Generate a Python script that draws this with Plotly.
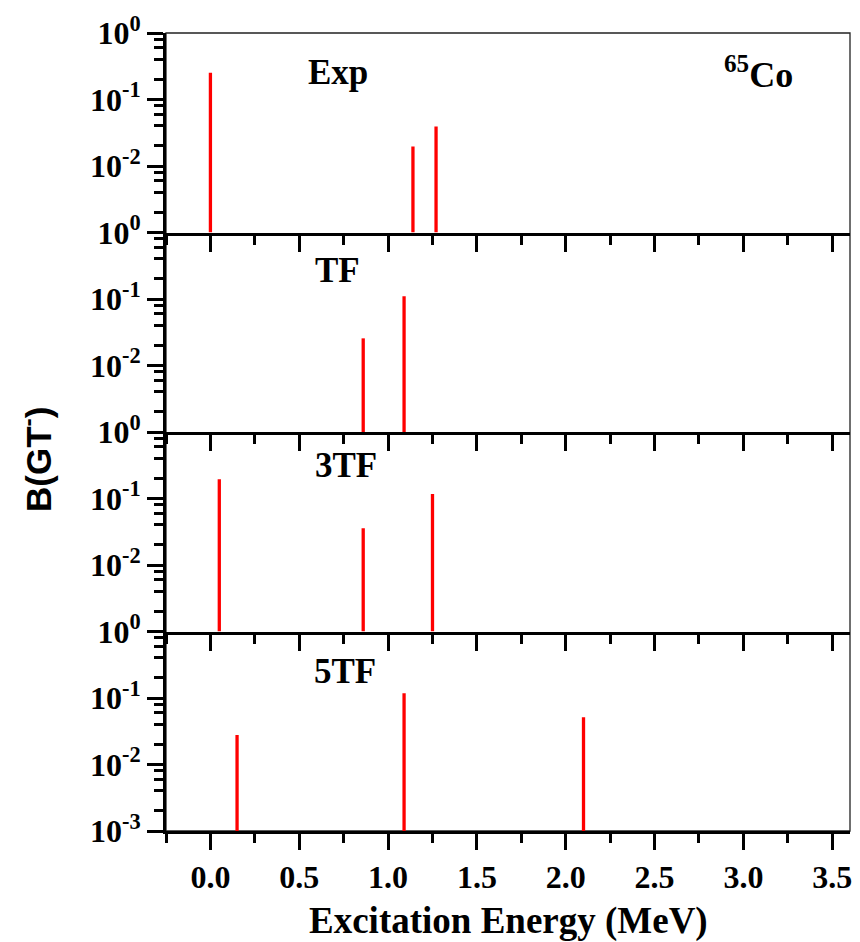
import plotly.graph_objects as go
from plotly.subplots import make_subplots

# Gamow-Teller strength distributions for 65Co (energy in MeV, B(GT-) values)
panel_names = ["Exp", "TF", "3TF", "5TF"]

exp_energy = [0.00, 1.14, 1.27]
exp_bgt = [0.253, 0.0197, 0.0394]

tf_energy = [0.86, 1.09]
tf_bgt = [0.0256, 0.110]

tf3_energy = [0.05, 0.86, 1.25]
tf3_bgt = [0.194, 0.0356, 0.117]

tf5_energy = [0.15, 1.09, 2.10]
tf5_bgt = [0.0278, 0.118, 0.0514]

series = [
    (exp_energy, exp_bgt),
    (tf_energy, tf_bgt),
    (tf3_energy, tf3_bgt),
    (tf5_energy, tf5_bgt),
]

y_tickvals = [1e-3, 1e-2, 1e-1, 1e0]
y_ticktext_full = ["10<sup>-3</sup>", "10<sup>-2</sup>", "10<sup>-1</sup>", "10<sup>0</sup>"]
y_floor = 1e-3

# tick layout
x_major = [0.0, 0.5, 1.0, 1.5, 2.0, 2.5, 3.0, 3.5]
x_minor = [-0.25, 0.25, 0.75, 1.25, 1.75, 2.25, 2.75, 3.25]
y_minor = [m * d for d in (1e-3, 1e-2, 1e-1) for m in (2, 4, 6, 8)]
X_MIN, X_MAX = -0.25, 3.6
Y_LOG_MIN, Y_LOG_MAX = -3, 0
MAJOR_LEN, MINOR_LEN, TICK_W, AXIS_W = 16, 9, 3, 3

# figure geometry
W, H = 860, 942
M_L, M_R, M_T, M_B = 166, 8, 33, 111
PX_PER_X = (W - M_L - M_R) / (X_MAX - X_MIN)
PX_PER_DEC = (H - M_T - M_B) / 4 / (Y_LOG_MAX - Y_LOG_MIN)

SERIF = "Liberation Serif"
SANS = "Liberation Sans"

fig = make_subplots(rows=4, cols=1, shared_xaxes=True, vertical_spacing=0)

for i, (energies, values) in enumerate(series):
    row = i + 1
    xs, ys = [], []
    for e, v in zip(energies, values):
        xs += [e, e, None]
        ys += [y_floor, v, None]
    fig.add_trace(
        go.Scatter(x=xs, y=ys, mode="lines",
                   line=dict(color="#ff0000", width=3.3),
                   showlegend=False, hoverinfo="skip"),
        row=row, col=1,
    )

    # x ticks hanging below the panel
    for vals, ln in ((x_major, MAJOR_LEN), (x_minor, MINOR_LEN)):
        yt = 10 ** (Y_LOG_MIN - (ln / 2) / PX_PER_DEC)
        fig.add_trace(
            go.Scatter(x=vals, y=[yt] * len(vals), mode="markers", cliponaxis=False,
                       marker=dict(symbol="line-ns", size=ln,
                                   line=dict(color="#000000", width=TICK_W)),
                       showlegend=False, hoverinfo="skip"),
            row=row, col=1,
        )

    # y ticks pointing left of the panel
    for vals, ln in ((y_tickvals, MAJOR_LEN), (y_minor, MINOR_LEN)):
        xt = X_MIN - (ln / 2) / PX_PER_X
        fig.add_trace(
            go.Scatter(x=[xt] * len(vals), y=vals, mode="markers", cliponaxis=False,
                       marker=dict(symbol="line-ew", size=ln,
                                   line=dict(color="#000000", width=TICK_W)),
                       showlegend=False, hoverinfo="skip"),
            row=row, col=1,
        )

tick_font = dict(family=SERIF, size=32, color="#000000", weight="bold")

fig.update_xaxes(
    range=[X_MIN, X_MAX], tickmode="array", tickvals=x_major, tickformat=".1f",
    ticks="outside", ticklen=MAJOR_LEN, tickwidth=TICK_W, tickcolor="#000000",
    showline=True, linewidth=AXIS_W, linecolor="#000000",
    showgrid=False, zeroline=False, tickfont=tick_font,
    minor=dict(tickmode="array", tickvals=x_minor, ticks="outside",
               ticklen=MINOR_LEN, tickwidth=TICK_W, tickcolor="#000000",
               showgrid=False),
)

for i in range(4):
    ticktext = list(y_ticktext_full)
    if i != 3:
        ticktext[0] = ""
    fig.update_yaxes(
        type="log", range=[Y_LOG_MIN, Y_LOG_MAX],
        tickmode="array", tickvals=y_tickvals, ticktext=ticktext,
        ticks="outside", ticklen=MAJOR_LEN, tickwidth=TICK_W, tickcolor="#000000",
        showline=True, linewidth=AXIS_W, linecolor="#000000",
        showgrid=False, zeroline=False, tickfont=tick_font,
        minor=dict(tickmode="array", tickvals=y_minor, ticks="outside",
                   ticklen=MINOR_LEN, tickwidth=TICK_W, tickcolor="#000000",
                   showgrid=False),
        row=i + 1, col=1,
    )

# Thin frame on the top and right edges
fig.add_shape(type="rect", xref="paper", yref="paper", x0=0, y0=0, x1=1, y1=1,
              line=dict(color="#222222", width=1.3), layer="below")

# Panel labels
label_x = [0.54, 0.575, 0.575, 0.57]
label_y = [0.80, 0.81, 0.83, 0.80]
axis_names = ["", "2", "3", "4"]
for name, lx, ly, ax in zip(panel_names, label_x, label_y, axis_names):
    fig.add_annotation(
        text=name, x=lx, y=ly, xref="x" + ax, yref="y" + ax + " domain",
        xanchor="left", yanchor="middle", showarrow=False,
        font=dict(family=SERIF, size=35, color="black", weight="bold"),
    )

fig.add_annotation(
    text="<sup>65</sup>Co", x=2.88, y=0.80, xref="x", yref="y domain",
    xanchor="left", yanchor="middle", showarrow=False,
    font=dict(family=SERIF, size=36, color="black", weight="bold"),
)

# Axis titles
fig.add_annotation(
    text="Excitation Energy (MeV)", x=0.5, y=-0.113, xref="paper", yref="paper",
    xanchor="center", yanchor="middle", showarrow=False,
    font=dict(family=SERIF, size=37, color="black", weight="bold"),
)
fig.add_annotation(
    text="B(GT<sup>-</sup>)", x=-0.19, y=0.465, xref="paper", yref="paper",
    xanchor="center", yanchor="middle", showarrow=False, textangle=-90,
    font=dict(family=SANS, size=35, color="black", weight="bold"),
)

fig.update_layout(
    width=W, height=H,
    margin=dict(l=M_L, r=M_R, t=M_T, b=M_B),
    plot_bgcolor="white", paper_bgcolor="white",
)

fig.write_html("out.html")
